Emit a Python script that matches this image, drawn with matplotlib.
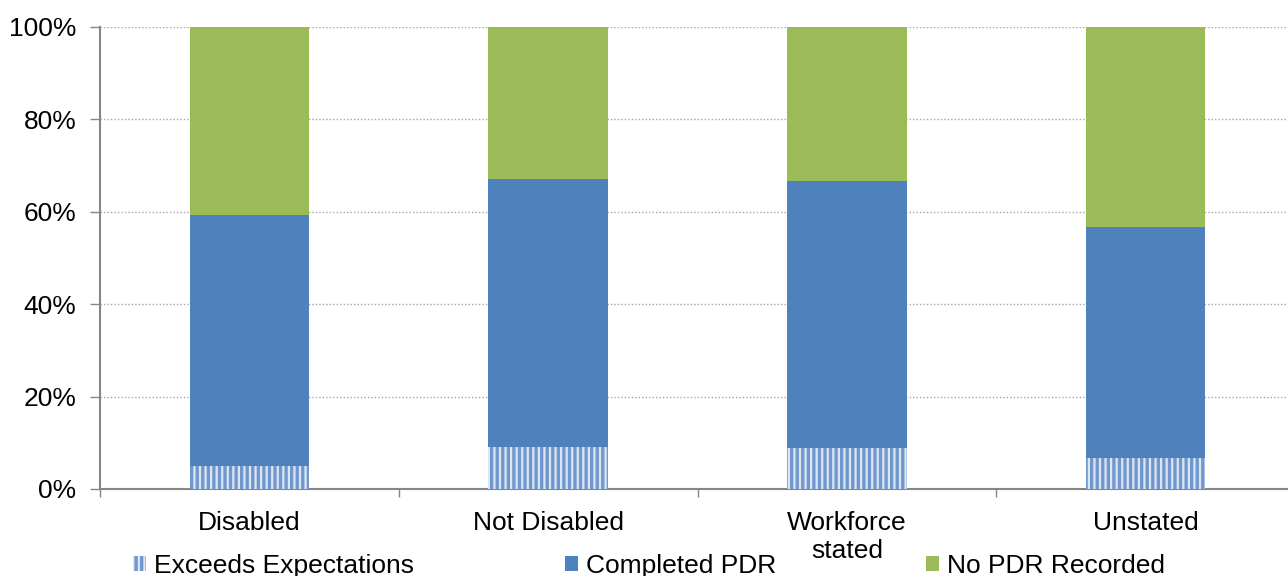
import matplotlib
matplotlib.use("Agg")
import matplotlib.pyplot as plt
import numpy as np
from matplotlib.patches import Patch

plt.rcParams['font.family'] = ['Liberation Sans', 'DejaVu Sans']
plt.rcParams['hatch.linewidth'] = 2.4

categories = ["Disabled", "Not Disabled", "Workforce\nstated", "Unstated"]
exceeds = [5.0, 9.1, 8.9, 6.7]
completed = [54.3, 58.0, 57.8, 50.0]
no_pdr = [40.7, 32.9, 33.3, 43.3]
series_names = ["Exceeds Expectations", "Completed PDR", "No PDR Recorded"]
yticks = [0, 20, 40, 60, 80, 100]

blue = "#4F81BD"
green = "#9BBB59"
hatch_face = "#DCE6F2"
hatch_col = "#7098CE"
gray = "#868686"
fs = 19

fig = plt.figure(figsize=(12.88, 5.76), dpi=100)
ax = fig.add_axes([100/1288, 87/576, 1195/1288, 462/576])

x = np.arange(len(categories))
w = 0.4
ax.bar(x, exceeds, w, color=hatch_face, edgecolor=hatch_col, hatch="|||", linewidth=0, zorder=3)
ax.bar(x, completed, w, bottom=exceeds, color=blue, linewidth=0, zorder=3)
bottom2 = np.array(exceeds) + np.array(completed)
ax.bar(x, no_pdr, w, bottom=bottom2, color=green, linewidth=0, zorder=3)

ax.set_xlim(-0.5, len(categories) - 0.5)
ax.set_ylim(0, 100)
ax.set_yticks(yticks)
ax.set_yticklabels([f"{v}%" for v in yticks])
ax.yaxis.grid(True, linestyle=(0, (1, 1.5)), color="#A6A6A6", linewidth=1.0, zorder=0)
ax.set_axisbelow(True)

ax.set_xticks(x)
ax.set_xticklabels(categories, fontsize=fs, linespacing=1.25)
ax.set_xticks(np.arange(len(categories) + 1) - 0.5, minor=True)
ax.tick_params(axis='x', which='major', length=0, pad=15.5)
ax.tick_params(axis='x', which='minor', length=6, width=1, color=gray, direction='out')
ax.tick_params(axis='y', which='major', length=7, width=1, color=gray, pad=10, labelsize=fs)

for s in ['top', 'right']:
    ax.spines[s].set_visible(False)
for s in ['left', 'bottom']:
    ax.spines[s].set_color(gray)
    ax.spines[s].set_linewidth(1.5)

handles = [
    Patch(facecolor=hatch_face, edgecolor=hatch_col, hatch="|||", linewidth=0),
    Patch(facecolor=blue),
    Patch(facecolor=green),
]
xs = [133, 565, 926]
for h, name, xx in zip(handles, series_names, xs):
    fig.legend([h], [name], loc='center left', bbox_to_anchor=(xx/1288, 1 - 566/576),
               frameon=False, fontsize=fs, handlelength=0.5, handleheight=0.5,
               handletextpad=0.3, borderaxespad=0, borderpad=0)

fig.savefig("out.png", dpi=100)
